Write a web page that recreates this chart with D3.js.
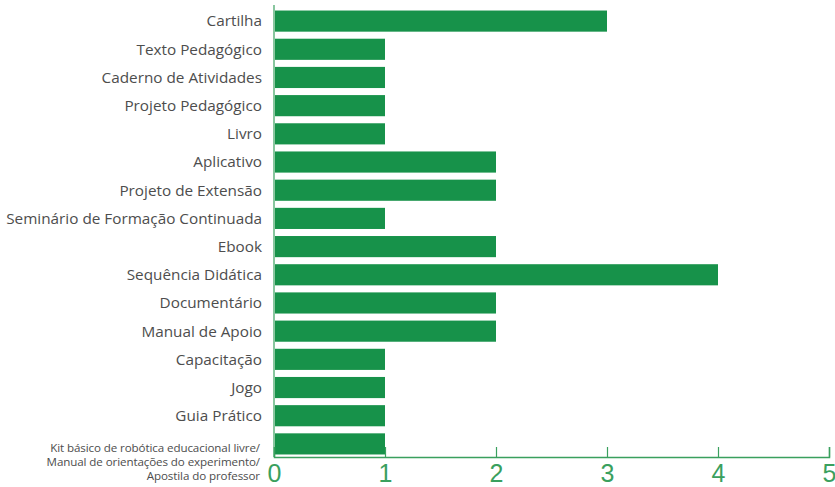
<!DOCTYPE html>
<html>
<head>
<meta charset="utf-8">
<script src="https://cdn.jsdelivr.net/npm/d3@7"></script>
<style>
  body { margin: 0; background: #fff; }
</style>
</head>
<body>
<svg></svg>
<script>
const categories = ['Cartilha', 'Texto Pedagógico', 'Caderno de Atividades', 'Projeto Pedagógico', 'Livro',
  'Aplicativo', 'Projeto de Extensão', 'Seminário de Formação Continuada', 'Ebook', 'Sequência Didática',
  'Documentário', 'Manual de Apoio', 'Capacitação', 'Jogo', 'Guia Prático',
  'Kit básico de robótica educacional livre/|Manual de orientações do experimento/|Apostila do professor'];
const values = [3, 1, 1, 1, 1, 2, 2, 1, 2, 4, 2, 2, 1, 1, 1, 1];
const tickValues = [0, 1, 2, 3, 4, 5];

const WIDTH = 835;
const HEIGHT = 487;
const LEFT = 274;
const RIGHT = 829;
const TOP = 7;
const AXIS_Y = 457;

const GREEN = '#17924a';
const AXIS_GREEN = '#3aa05e';

const data = categories.map((c, i) => ({ name: c, value: values[i] }));

const svg = d3.select('svg').
attr('width', WIDTH).
attr('height', HEIGHT).
attr('font-family', '"Open Sans", sans-serif');

const x = d3.scaleLinear().
domain([0, 5]).
range([LEFT, RIGHT]);

const y = d3.scaleBand().
domain(categories).
range([TOP, AXIS_Y + 1]).
paddingInner(0.25).
paddingOuter(0.125);

// bars
svg.append('g').
selectAll('rect').
data(data).
join('rect').
attr('x', x(0) + 1).
attr('y', d => y(d.name)).
attr('width', d => x(d.value) - x(0) - 1).
attr('height', y.bandwidth()).
attr('fill', GREEN);

// y axis line
svg.append('line').
attr('x1', LEFT).attr('x2', LEFT).
attr('y1', 5).attr('y2', AXIS_Y).
attr('stroke', AXIS_GREEN).
attr('stroke-width', 1.2);

// x axis
const xAxis = d3.axisBottom(x).
tickValues(tickValues).
tickSize(-10).
tickPadding(8).
tickFormat(d3.format('d'));

const xg = svg.append('g').
attr('transform', `translate(0,${AXIS_Y})`).
call(xAxis);

xg.select('.domain').
attr('stroke', AXIS_GREEN).
attr('stroke-width', 1.5);
xg.selectAll('.tick line').
attr('stroke', AXIS_GREEN).
attr('stroke-width', 1.2);
xg.selectAll('.tick text').
attr('fill', AXIS_GREEN).
attr('font-size', 25).
attr('font-weight', 300).
attr('dy', '0.71em').
attr('y', 7);

// category labels
const labels = svg.append('g').
attr('fill', '#4d4d4d').
attr('text-anchor', 'end');

data.forEach(d => {
  const lines = d.name.split('|');
  const cy = y(d.name) + y.bandwidth() / 2;
  if (lines.length === 1) {
    labels.append('text').
    attr('x', LEFT - 12).
    attr('y', cy).
    attr('dy', '0.35em').
    attr('font-size', 15.3).
    text(d.name);
  } else {
    const t = labels.append('text').
    attr('x', LEFT - 14).
    attr('font-size', 11.6).
    attr('letter-spacing', -0.1);
    lines.forEach((l, i) => {
      t.append('tspan').
      attr('x', LEFT - 14).
      attr('y', cy + 8 + i * 14).
      text(l);
    });
  }
});
</script>
</body>
</html>
